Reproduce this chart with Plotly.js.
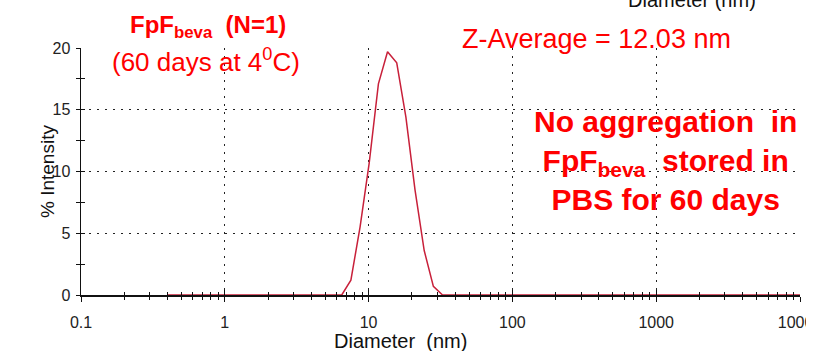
<!DOCTYPE html>
<html>
<head>
<meta charset="utf-8">
<script src="https://cdn.plot.ly/plotly-3.0.1.min.js"></script>
<style>html,body{margin:0;padding:0;background:#fff;}#chart{width:837px;height:351px;}</style>
</head>
<body>
<div id="chart"></div>
<script>
// Size bins (nm) of the DLS size distribution
const sizes = [0.4, 0.4632, 0.5365, 0.6213, 0.7195, 0.8332, 0.9649, 1.117, 1.294, 1.499,
  1.736, 2.01, 2.328, 2.696, 3.122, 3.615, 4.187, 4.849, 5.615, 6.503,
  7.531, 8.721, 10.1, 11.7, 13.54, 15.69, 18.17, 21.04, 24.36, 28.21,
  32.67, 37.84, 43.82, 50.75, 58.77, 68.06, 78.82, 91.28, 105.7, 122.4,
  141.8, 164.2, 190.1, 220.2, 255.0, 295.3, 342.0, 396.1, 458.7, 531.2,
  615.1, 712.4, 825.0, 955.4, 1106, 1281, 1484, 1718, 1990, 2305,
  2669, 3091, 3580, 4145, 4801, 5560, 6439, 7456, 8635, 10000];
// % Intensity per bin
const intensity = [0, 0, 0, 0, 0, 0, 0, 0, 0, 0,
  0, 0, 0, 0, 0, 0, 0, 0, 0, 0,
  1.2, 5.5, 10.7, 17.1, 19.7, 18.8, 14.4, 8.5, 3.6, 0.7,
  0, 0, 0, 0, 0, 0, 0, 0, 0, 0,
  0, 0, 0, 0, 0, 0, 0, 0, 0, 0,
  0, 0, 0, 0, 0, 0, 0, 0, 0, 0,
  0, 0, 0, 0, 0, 0, 0, 0, 0, 0];
const xTickVals = [0.1, 1, 10, 100, 1000, 10000];
const xTickText = ['0.1', '1', '10', '100', '1000', '10000'];
const yTickVals = [0, 5, 10, 15, 20];
const yTickText = ['0', '5', '10', '15', '20'];
const yMinorVals = [2.5, 7.5, 12.5, 17.5];

const xMinorVals = [];
for (let i = 0; i < xTickVals.length - 1; i++) {
  for (let k = 2; k <= 9; k++) xMinorVals.push(k * xTickVals[i]);
}

// pixel -> paper helpers (plot area: x 81..800, y 48..295)
const L = 81, R = 800, T = 48, B = 295;
const px = v => (v - L) / (R - L);
const py = v => (B - v) / (B - T);

const tickFont = {family: '"Liberation Sans Narrow", "Arial Narrow", "Liberation Sans", Arial, sans-serif', size: 16, color: '#222'};
const red = '#ff0000';
const txtFam = '"Liberation Sans", Arial, sans-serif';

const traces = [
  {x: sizes, y: intensity, type: 'scatter', mode: 'lines', cliponaxis: false,
   line: {color: '#c8203a', width: 1.5}, hoverinfo: 'skip', showlegend: false},
  {x: sizes, y: intensity, type: 'scatter', mode: 'lines', xaxis: 'x2', yaxis: 'y2',
   line: {color: 'rgba(0,0,0,0)', width: 0}, opacity: 0, hoverinfo: 'skip', showlegend: false}
];

const gridCommon = {showgrid: true, gridcolor: '#222', gridwidth: 1, griddash: '1.5px,6.5px', zeroline: false};

const layout = {
  width: 837, height: 351,
  margin: {l: L, r: 837 - R, t: T, b: 351 - B, pad: 0},
  paper_bgcolor: '#fff', plot_bgcolor: '#fff',
  showlegend: false,
  xaxis: Object.assign({
    type: 'log', range: [-1, 4], tickmode: 'array', tickvals: xTickVals, ticktext: xTickText,
    ticks: 'outside', ticklen: 5, tickwidth: 1, tickcolor: '#111',
    minor: {tickmode: 'array', tickvals: xMinorVals, ticks: 'outside', ticklen: 3, tickwidth: 1, tickcolor: '#111', showgrid: false},
    showline: true, linecolor: '#111', linewidth: 1.5, layer: 'below traces',
    tickfont: tickFont, ticklabelstandoff: 7, fixedrange: true
  }, gridCommon),
  yaxis: Object.assign({
    range: [0, 20], tickmode: 'array', tickvals: yTickVals, ticktext: yTickText,
    ticks: 'outside', ticklen: 4, tickwidth: 1, tickcolor: '#111',
    minor: {tickmode: 'array', tickvals: yMinorVals, ticks: 'outside', ticklen: 4, tickwidth: 1, tickcolor: '#111', showgrid: false},
    showline: true, linecolor: '#111', linewidth: 1.5,
    tickfont: tickFont, ticklabelstandoff: 2, fixedrange: true
  }, gridCommon),
  xaxis2: {
    type: 'log', range: [-1, 4], overlaying: 'x', anchor: 'y', side: 'bottom',
    tickmode: 'array', tickvals: xTickVals, ticks: 'inside', ticklen: 5, tickwidth: 1, tickcolor: '#111',
    minor: {tickmode: 'array', tickvals: xMinorVals, ticks: 'inside', ticklen: 3, tickwidth: 1, tickcolor: '#111', showgrid: false},
    showticklabels: false, showgrid: false, showline: false, zeroline: false, fixedrange: true
  },
  yaxis2: {
    range: [0, 20], overlaying: 'y', anchor: 'x', side: 'left',
    tickmode: 'array', tickvals: yTickVals, ticks: 'inside', ticklen: 4, tickwidth: 1, tickcolor: '#111',
    minor: {tickmode: 'array', tickvals: yMinorVals, ticks: 'inside', ticklen: 4, tickwidth: 1, tickcolor: '#111', showgrid: false},
    showticklabels: false, showgrid: false, showline: false, zeroline: false, fixedrange: true
  },
  shapes: [
    {type: 'rect', xref: 'paper', yref: 'paper', x0: px(806), x1: px(840), y0: py(351), y1: py(302),
     fillcolor: '#fff', line: {width: 0}, layer: 'above'}
  ],
  annotations: [
    {text: '<b>FpF<sub>beva</sub>&nbsp; (N=1)</b>', xref: 'paper', yref: 'paper', x: px(208), y: py(26),
     xanchor: 'center', yanchor: 'middle', showarrow: false, font: {family: txtFam, size: 24, color: red}},
    {text: '(60 days at 4<sup>0</sup>C)', xref: 'paper', yref: 'paper', x: px(206), y: py(60),
     xanchor: 'center', yanchor: 'middle', showarrow: false, font: {family: txtFam, size: 26, color: red}},
    {text: 'Z-Average = 12.03 nm', xref: 'paper', yref: 'paper', x: px(596), y: py(39),
     xanchor: 'center', yanchor: 'middle', showarrow: false, font: {family: txtFam, size: 27, color: red}},
    {text: '<b>No aggregation&nbsp; in<br>FpF<sub>beva</sub>&nbsp; stored in<br>PBS for 60 days</b>', xref: 'paper', yref: 'paper',
     x: px(665), y: py(160), xanchor: 'center', yanchor: 'middle', align: 'center', showarrow: false,
     font: {family: txtFam, size: 30, color: red}},
    {text: 'Diameter&nbsp; (nm)', xref: 'paper', yref: 'paper', x: px(400), y: py(341),
     xanchor: 'center', yanchor: 'middle', showarrow: false, font: {family: txtFam, size: 20, color: '#111'}},
    {text: '% Intensity', xref: 'paper', yref: 'paper', x: px(47), y: py(172), textangle: -90,
     xanchor: 'center', yanchor: 'middle', showarrow: false, font: {family: txtFam, size: 19, color: '#111'}},
    {text: 'Diameter (nm)', xref: 'paper', yref: 'paper', x: px(692), y: py(13),
     xanchor: 'center', yanchor: 'bottom', showarrow: false, font: {family: txtFam, size: 20, color: '#111'}}
  ]
};

Plotly.newPlot('chart', traces, layout, {displayModeBar: false, staticPlot: true});
</script>
</body>
</html>
